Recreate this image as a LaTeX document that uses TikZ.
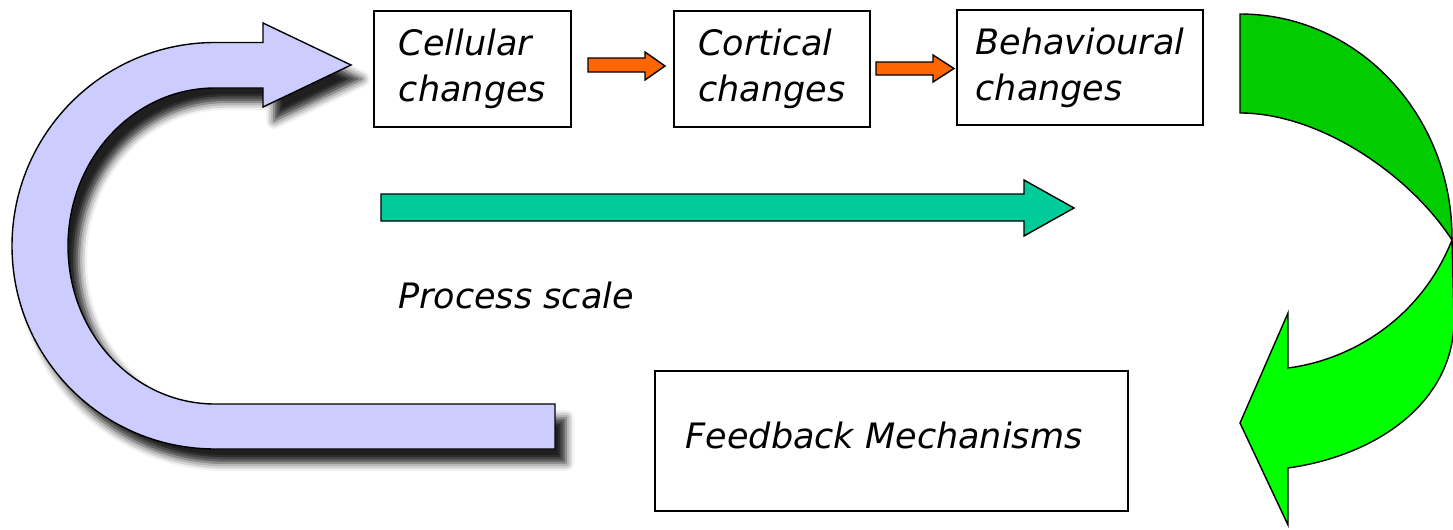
\documentclass[tikz,border=0pt]{standalone}
\usepackage{fontspec}
\setmainfont{DejaVu Sans}
\usetikzlibrary{shadows.blur}
\definecolor{lav}{HTML}{CCCCFF}
\definecolor{gdark}{HTML}{00CC00}
\definecolor{glight}{HTML}{00FF00}
\definecolor{orng}{HTML}{FF6600}
\definecolor{teal2}{HTML}{00CC99}
\tikzset{
  box/.style={draw=black, line width=0.75pt, rectangle, inner sep=0pt, align=left,
    font=\fontsize{17.5}{23}\selectfont\itshape},
  blockarrow/.style={draw=black, line width=0.7pt, line join=miter},
  lbl/.style={font=\fontsize{17.5}{23}\selectfont\itshape, inner sep=0pt}
}
\begin{document}
\begin{tikzpicture}[x=0.5pt, y=-0.5pt]
\useasboundingbox (0,0) rectangle (1453,530);
% lavender U-arrow with shadow
\path[blockarrow, fill=lav, blur shadow={shadow xshift=5.5pt, shadow yshift=-7pt, shadow blur radius=4pt, shadow opacity=88}]
  (555,449) -- (215,449) .. controls (103,449) and (12,358.4) .. (12,246)
  .. controls (12,133.6) and (103,42.5) .. (215,42.5) -- (263,42.5) -- (263,23) -- (351,65)
  -- (263,107) -- (263,88) -- (215,88) .. controls (133.8,88) and (68,158.7) .. (68,246)
  .. controls (68,333.3) and (133.8,404) .. (215,404) -- (555,404) -- cycle;
% boxes
\node[box, minimum width=98.5pt, minimum height=58pt] (cell) at (472.5,69) {Cellular\\changes};
\node[box, minimum width=98pt, minimum height=58pt] (cort) at (772,69) {Cortical\\changes};
\node[box, minimum width=123pt, minimum height=57.5pt] (behav) at (1080,67.5) {Behavioural\\changes};
\node[box, align=center, minimum width=236.5pt, minimum height=70pt] (feed) at (891.5,441) {};
\node[lbl] (feedtxt) at (884,435) {Feedback Mechanisms};
% orange arrows
\path[blockarrow, fill=orng] (588,58) -- (645,58) -- (645,52) -- (665,66) -- (645,80) -- (645,72) -- (588,72) -- cycle;
\path[blockarrow, fill=orng] (876,62) -- (933,62) -- (933,55) -- (954,68.5) -- (933,82) -- (933,75) -- (876,75) -- cycle;
% teal process arrow
\path[blockarrow, fill=teal2] (381,194) -- (1024,194) -- (1024,180) -- (1074,208) -- (1024,236) -- (1024,221) -- (381,221) -- cycle;
\node[lbl] (proc) at (516,295) {Process scale};
% green curved arrow
\path[blockarrow, fill=glight] (1452,240) -- (1454,320) .. controls (1454,400) and (1380,455) .. (1288,468)
  -- (1288,525) -- (1240,423) -- (1288,313) -- (1288,368)
  .. controls (1350,360) and (1420,320) .. (1452,240) -- cycle;
\path[blockarrow, fill=gdark] (1240,14) .. controls (1357.6,14) and (1453,115) .. (1452,240)
  .. controls (1410,175) and (1320,113) .. (1240,113) -- cycle;
\end{tikzpicture}
\end{document}
